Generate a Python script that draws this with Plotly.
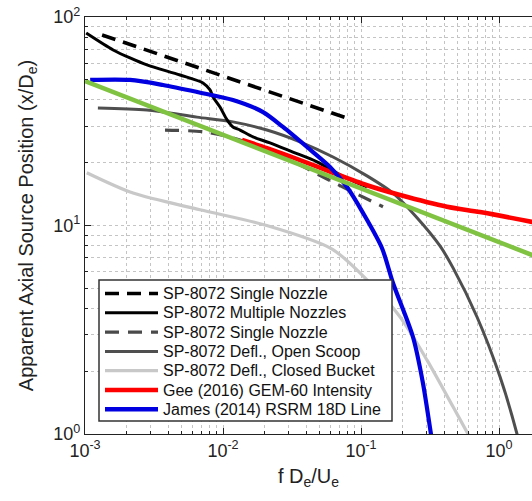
import plotly.graph_objects as go

W, H = 532, 501
ML, MT, MR, MB = 85, 17, 0, 67

# ---------------- data ----------------
names = [
    "SP-8072 Single Nozzle",
    "SP-8072 Multiple Nozzles",
    "SP-8072 Single Nozzle",
    "SP-8072 Defl., Open Scoop",
    "SP-8072 Defl., Closed Bucket",
    "Gee (2016) GEM-60 Intensity",
    "James (2014) RSRM 18D Line",
]

single1_x = [0.00133, 0.0861]
single1_y = [82.0, 32.1]

multi_x = [0.00102, 0.0016, 0.00212, 0.00281, 0.00488, 0.00716, 0.00805, 0.00847,
           0.00951, 0.0107, 0.0118, 0.0133, 0.0165, 0.0219, 0.0321, 0.048, 0.0705, 0.1105]
multi_y = [83.8, 69.5, 63.6, 58.9, 52.7, 48.3, 44.7, 41.3,
           37.0, 32.1, 29.7, 28.7, 26.6, 24.9, 22.5, 20.2, 17.5, 15.3]

single2_x = [0.0038, 0.00741, 0.0118, 0.0185, 0.0306, 0.0549, 0.0905, 0.1443]
single2_y = [28.7, 28.1, 26.3, 23.8, 20.6, 16.9, 14.3, 12.3]

scoop_x = [0.00124, 0.00281, 0.00648, 0.0118, 0.0208, 0.0361, 0.0627, 0.1105,
           0.1705, 0.2546, 0.3735, 0.4645, 0.693, 1.017, 1.35, 1.40]
scoop_y = [36.6, 35.8, 33.1, 31.4, 28.7, 25.2, 21.3, 17.3,
           14.3, 10.9, 7.98, 6.26, 3.64, 1.88, 1.0, 0.9]

bucket_x = [0.00103, 0.00223, 0.00681, 0.0201, 0.0617, 0.1162, 0.192, 0.301, 0.4645, 0.596, 0.62]
bucket_y = [17.9, 14.3, 11.9, 10.06, 7.71, 5.30, 3.64, 2.26, 1.35, 1.0, 0.95]

gee_x = [0.01374, 0.0208, 0.0361, 0.0627, 0.1105, 0.192, 0.42, 0.728, 1.734, 2.0]
gee_y = [25.7, 23.5, 20.6, 17.9, 15.6, 14.0, 12.3, 11.6, 10.4, 10.2]

james_x = [0.00109, 0.00212, 0.00367, 0.00648, 0.0118, 0.0195, 0.0272, 0.0406,
           0.0596, 0.0792, 0.1033, 0.1418, 0.1705, 0.238, 0.281, 0.3213, 0.33]
james_y = [49.9, 49.9, 47.2, 43.7, 40.0, 35.0, 29.7, 23.8,
           19.1, 15.3, 11.5, 7.80, 5.30, 2.92, 1.756, 1.0, 0.9]

green_x = [0.001, 2.0]
green_y = [49.3, 6.96]

series_x = [single1_x, multi_x, single2_x, scoop_x, bucket_x, gee_x, james_x]
series_y = [single1_y, multi_y, single2_y, scoop_y, bucket_y, gee_y, james_y]

major_vals_x = [0.001, 0.01, 0.1, 1]
major_text_x = ["10<sup>-3</sup>", "10<sup>-2</sup>", "10<sup>-1</sup>", "10<sup>0</sup>"]
major_vals_y = [1, 10, 100]
major_text_y = ["10<sup>0</sup>", "10<sup>1</sup>", "10<sup>2</sup>"]

# ---------------- styles ----------------
colors = ["#000000", "#000000", "#4a4a4a", "#4f4f4f", "#c8c8c8", "#ff0000", "#0000e0"]
widths = [3.6, 3.0, 3.2, 3.0, 3.2, 4.6, 4.2]
dashes = ["14px,8px", "solid", "14px,9px", "solid", "solid", "solid", "solid"]
shapes_ln = ["linear", "spline", "spline", "spline", "spline", "spline", "spline"]
green_color = "#80c241"

fig = go.Figure()

order = [4, 3, 2, 1, 0, 5, 6]
for i in order:
    fig.add_trace(go.Scatter(x=series_x[i], y=series_y[i], mode="lines", name=names[i],
                             line=dict(color=colors[i], width=widths[i], dash=dashes[i],
                                       shape=shapes_ln[i], smoothing=0.8),
                             showlegend=False))
fig.add_trace(go.Scatter(x=green_x, y=green_y, mode="lines", name="fit",
                         line=dict(color=green_color, width=4.5), showlegend=False))

minor_x = [m * 10 ** e for e in range(-3, 1) for m in range(2, 10)]
minor_y = [m * 10 ** e for e in range(0, 2) for m in range(2, 10)]

grid_col = "#c4c4c4"
axis_col = "#222222"
FONT = "Liberation Sans, Arial, sans-serif"
tickfont = dict(family=FONT, size=18, color="#222222")

fig.update_xaxes(type="log", range=[-3, 0.239], tickmode="array", tickvals=major_vals_x,
                 ticktext=major_text_x, ticks="inside", ticklen=6, tickcolor=axis_col,
                 showline=True, linecolor=axis_col, linewidth=1.2, mirror="ticks",
                 showgrid=True, gridcolor=grid_col, griddash="dot", gridwidth=1,
                 zeroline=False, tickfont=tickfont,
                 minor=dict(tickmode="array", tickvals=minor_x, ticks="inside", ticklen=3,
                            tickcolor=axis_col, showgrid=True, gridcolor=grid_col,
                            griddash="dot", gridwidth=1),
                 title=dict(text="f D<sub>e</sub>/U<sub>e</sub>",
                            font=dict(family=FONT, size=20, color="#222222"), standoff=9))
fig.update_yaxes(type="log", range=[0, 2], tickmode="array", tickvals=major_vals_y,
                 ticktext=major_text_y, ticks="inside", ticklen=6, tickcolor=axis_col,
                 showline=True, linecolor=axis_col, linewidth=1.2, mirror=False,
                 showgrid=True, gridcolor=grid_col, griddash="dot", gridwidth=1,
                 zeroline=False, tickfont=tickfont,
                 minor=dict(tickmode="array", tickvals=minor_y, ticks="inside", ticklen=3,
                            tickcolor=axis_col, showgrid=True, gridcolor=grid_col,
                            griddash="dot", gridwidth=1),
                 title=dict(text="Apparent Axial Source Position (x/D<sub>e</sub>)",
                            font=dict(family=FONT, size=20, color="#222222"), standoff=14))

# ---------------- manual legend (pixel layout -> paper coords) ----------------
PW = W - ML - MR
PH = H - MT - MB


def px_x(p):
    return (p - ML) / PW


def px_y(p):
    return (H - MB - p) / PH


shapes = [dict(type="rect", xref="paper", yref="paper",
               x0=px_x(99), x1=px_x(392), y0=px_y(421), y1=px_y(280),
               fillcolor="white", line=dict(color="#333333", width=1.5), layer="above")]
annotations = []
for i, nm in enumerate(names):
    yy = 293.5 + 19.3 * i
    shapes.append(dict(type="line", xref="paper", yref="paper",
                       x0=px_x(105), x1=px_x(158), y0=px_y(yy), y1=px_y(yy),
                       line=dict(color=colors[i], width=widths[i] if i not in (5, 6) else 4.5,
                                 dash=dashes[i]), layer="above"))
    annotations.append(dict(xref="paper", yref="paper", x=px_x(161), y=px_y(yy),
                            xanchor="left", yanchor="middle", text=nm, showarrow=False,
                            font=dict(family=FONT, size=16, color="#111111")))

fig.update_layout(width=W, height=H, margin=dict(l=ML, r=MR, t=MT, b=MB, autoexpand=False),
                  paper_bgcolor="white", plot_bgcolor="white", showlegend=False,
                  shapes=shapes, annotations=annotations)

fig.write_html("out.html")
